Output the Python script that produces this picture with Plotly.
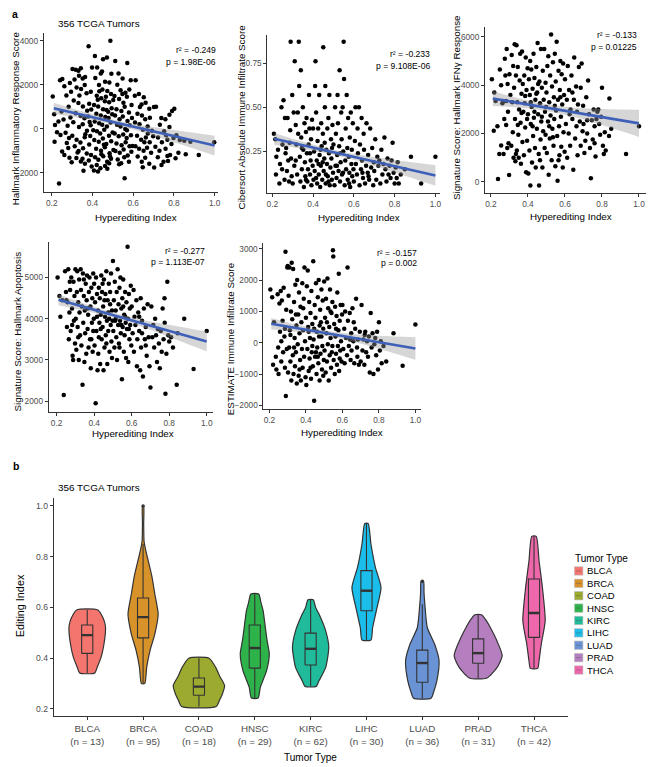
import plotly.graph_objects as go

W, H = 654, 767
OFF = 8            # the page body adds an 8px margin; the figure is shrunk to fit the window
FW, FH = W - OFF, H - OFF
FONT = "Liberation Sans, Arial, Helvetica, sans-serif"

# ---------------- DATA ----------------
# Panel a: (Hyperediting Index, score) pairs
inflammatory_pts = [
(0.205,1470),(0.212,660),(0.216,170),(0.214,-590),(0.236,-2490),(0.241,2210),(0.252,2270),(0.262,1940),(0.272,1520),(0.248,790),(0.258,420),(0.233,330),(0.268,-180),(0.281,-870),(0.251,-1030),(0.274,-640),(0.289,2080),(0.283,1010),(0.292,520),(0.287,-1310),(0.243,-280),(0.278,140),(0.262,-1190),(0.295,1690),(0.298,-1520),(0.226,-150),(0.285,-420),
(0.302,2720),(0.318,2690),(0.331,2640),(0.343,2760),(0.312,2240),(0.334,2410),(0.352,2290),(0.364,2360),(0.381,3760),(0.362,1990),(0.322,1880),(0.344,1810),(0.371,1620),(0.392,1690),(0.308,1290),(0.331,1180),(0.353,1020),(0.384,1140),(0.394,880),(0.318,710),(0.342,590),(0.361,480),(0.379,560),(0.306,300),(0.334,90),(0.352,210),(0.373,-90),(0.391,160),(0.301,-310),(0.322,-490),(0.341,-620),(0.362,-380),(0.384,-710),(0.313,-790),(0.332,-1010),(0.354,-880),(0.372,-1120),(0.393,-1190),(0.321,-1320),(0.343,-1480),(0.363,-1590),(0.382,-1440),(0.396,-1710),(0.351,-1360),(0.336,1520),(0.374,820),(0.365,-240),(0.386,310),(0.398,2790),(0.356,-1900),(0.327,-1080),(0.389,-320),
(0.412,3310),(0.423,2790),(0.441,2520),(0.452,3160),(0.471,3240),(0.488,4010),(0.493,2510),(0.462,2140),(0.483,2110),(0.414,2310),(0.432,1990),(0.449,1790),(0.473,1720),(0.491,1580),(0.421,1510),(0.443,1390),(0.461,1260),(0.482,1210),(0.502,1310),(0.408,1090),(0.428,1020),(0.452,890),(0.469,860),(0.494,940),(0.419,690),(0.441,610),(0.463,540),(0.479,490),(0.497,660),(0.411,340),(0.433,260),(0.448,190),(0.471,110),(0.489,290),(0.422,-110),(0.438,-210),(0.458,-40),(0.481,-310),(0.499,-160),(0.409,-510),(0.431,-590),(0.451,-440),(0.468,-690),(0.492,-560),(0.418,-910),(0.442,-990),(0.461,-840),(0.484,-1110),(0.503,-960),(0.413,-1290),(0.429,-1410),(0.453,-1240),(0.472,-1490),(0.491,-1360),(0.421,-1640),(0.439,-1790),(0.462,-1690),(0.482,-1560),(0.407,-1890),(0.427,-1940),(0.473,-1810),(0.447,2610),(0.434,1710),(0.466,1460),(0.444,-1160),(0.426,1320),(0.456,-720),(0.477,780),(0.404,-60),(0.486,-1240),
(0.512,3090),(0.528,2520),(0.548,2290),(0.571,2990),(0.588,2210),(0.522,2010),(0.538,1760),(0.562,1640),(0.581,1790),(0.508,1490),(0.531,1360),(0.552,1190),(0.569,1460),(0.592,1090),(0.518,890),(0.542,810),(0.558,1010),(0.579,740),(0.511,610),(0.533,440),(0.549,560),(0.572,360),(0.594,490),(0.521,190),(0.538,110),(0.561,-10),(0.583,160),(0.509,-210),(0.529,-340),(0.551,-260),(0.568,-410),(0.589,-290),(0.518,-660),(0.543,-740),(0.563,-610),(0.582,-790),(0.513,-1010),(0.534,-1090),(0.553,-940),(0.573,-1210),(0.591,-1040),(0.524,-1390),(0.541,-1560),(0.558,-2250),(0.531,-1610),(0.579,-1490),(0.547,1590),(0.569,-60),(0.597,-780),(0.556,-1290),
(0.612,2210),(0.628,1590),(0.652,1440),(0.608,1510),(0.641,1110),(0.661,1190),(0.679,910),(0.621,690),(0.643,610),(0.659,440),(0.682,510),(0.702,990),(0.609,290),(0.631,210),(0.648,-40),(0.671,110),(0.692,-90),(0.619,-310),(0.639,-490),(0.662,-390),(0.681,-610),(0.698,-340),(0.611,-790),(0.629,-910),(0.651,-990),(0.668,-860),(0.688,-1090),(0.622,-1260),(0.642,-1490),(0.659,-1310),(0.679,-1590),(0.703,-1760),(0.647,-1740),(0.633,990),(0.672,-210),(0.655,-610),
(0.712,1010),(0.738,490),(0.758,440),(0.731,190),(0.752,-110),(0.778,90),(0.722,-390),(0.741,-610),(0.768,-490),(0.788,-690),(0.709,-810),(0.729,-990),(0.759,-910),(0.781,-1190),(0.721,-1290),(0.749,-1490),(0.771,-1460),(0.739,-1640),(0.791,810),(0.778,640),(0.762,-290),(0.798,-420),
(0.802,910),(0.812,-290),(0.829,-510),(0.851,-540),(0.822,-1090),(0.858,-1160),(0.922,-1190),(0.998,-610),(0.808,-1340),(0.881,-590),(0.768,-1230),
]

cibersort_pts = [
(0.208,0.35),(0.215,0.32),(0.22,0.22),(0.218,0.12),(0.235,0.07),(0.238,0.18),(0.245,0.50),(0.255,0.54),(0.25,0.29),(0.26,0.09),(0.262,0.44),(0.268,0.27),(0.272,0.14),(0.275,0.44),(0.278,0.20),(0.282,0.08),(0.285,0.30),(0.29,0.87),(0.288,0.37),(0.292,0.21),(0.295,0.11),(0.298,0.57),(0.248,0.15),(0.265,0.24),(0.228,0.26),
(0.30,0.07),(0.305,0.47),(0.31,0.76),(0.308,0.17),(0.315,0.40),(0.318,0.29),(0.322,0.12),(0.325,0.47),(0.33,0.87),(0.332,0.62),(0.335,0.22),(0.338,0.08),(0.34,0.71),(0.342,0.33),(0.345,0.15),(0.35,0.50),(0.352,0.26),(0.355,0.05),(0.358,0.41),(0.36,0.19),(0.362,0.11),(0.365,0.36),(0.368,0.44),(0.37,0.24),(0.372,0.08),(0.375,0.15),(0.378,0.29),(0.38,0.57),(0.382,0.38),(0.385,0.12),(0.388,0.20),(0.39,0.32),(0.392,0.06),(0.395,0.43),(0.398,0.17),(0.315,0.20),(0.345,0.27),(0.365,0.09),(0.385,0.24),(0.327,0.35),
(0.40,0.38),(0.402,0.09),(0.405,0.25),(0.408,0.14),(0.41,0.62),(0.412,0.76),(0.415,0.47),(0.418,0.20),(0.42,0.07),(0.422,0.31),(0.425,0.38),(0.428,0.12),(0.43,0.57),(0.432,0.23),(0.435,0.05),(0.438,0.17),(0.44,0.41),(0.442,0.28),(0.445,0.09),(0.448,0.35),(0.45,0.84),(0.452,0.14),(0.455,0.21),(0.458,0.50),(0.46,0.62),(0.462,0.07),(0.465,0.26),(0.468,0.18),(0.47,0.38),(0.472,0.11),(0.475,0.44),(0.478,0.24),(0.48,0.57),(0.482,0.06),(0.485,0.16),(0.488,0.32),(0.49,0.21),(0.492,0.09),(0.495,0.40),(0.498,0.13),(0.415,0.10),(0.437,0.26),(0.457,0.30),(0.476,0.08),(0.493,0.27),(0.427,0.18),(0.463,0.12),(0.447,0.19),
(0.50,0.29),(0.505,0.06),(0.508,0.50),(0.51,0.17),(0.512,0.35),(0.515,0.10),(0.518,0.23),(0.52,0.57),(0.522,0.41),(0.525,0.14),(0.528,0.28),(0.53,0.71),(0.532,0.08),(0.535,0.19),(0.538,0.47),(0.54,0.32),(0.542,0.12),(0.545,0.50),(0.548,0.25),(0.55,0.87),(0.552,0.66),(0.555,0.06),(0.558,0.20),(0.56,0.38),(0.562,0.15),(0.565,0.57),(0.568,0.27),(0.57,0.09),(0.572,0.44),(0.575,0.22),(0.578,0.13),(0.58,0.33),(0.582,0.05),(0.585,0.47),(0.588,0.18),(0.59,0.26),(0.592,0.11),(0.595,0.41),(0.598,0.15),(0.517,0.17),(0.547,0.13),(0.577,0.07),(0.533,0.24),
(0.60,0.08),(0.605,0.31),(0.608,0.50),(0.61,0.18),(0.615,0.12),(0.618,0.38),(0.62,0.24),(0.625,0.50),(0.628,0.06),(0.63,0.29),(0.635,0.15),(0.638,0.44),(0.64,0.20),(0.645,0.10),(0.648,0.35),(0.65,0.26),(0.655,0.07),(0.66,0.17),(0.662,0.41),(0.668,0.13),(0.67,0.23),(0.675,0.09),(0.68,0.38),(0.685,0.16),(0.69,0.27),(0.695,0.06),(0.698,0.19),(0.642,0.13),(0.672,0.11),
(0.70,0.14),(0.705,0.32),(0.71,0.09),(0.715,0.22),(0.72,0.17),(0.73,0.07),(0.735,0.26),(0.74,0.12),(0.745,0.18),(0.75,0.33),(0.755,0.15),(0.76,0.08),(0.765,0.21),(0.77,0.12),(0.775,0.17),(0.78,0.10),(0.785,0.20),(0.79,0.30),(0.795,0.13),(0.725,0.20),
(0.80,0.07),(0.805,0.16),(0.815,0.19),(0.82,0.07),(0.83,0.12),(0.85,0.15),(0.88,0.22),(0.93,0.07),(1.0,0.22),(0.81,0.10),
]

ifng_pts = [
(0.205,4250),(0.218,3700),(0.215,2120),(0.235,2300),(0.238,120),(0.248,4650),(0.255,1510),(0.262,3250),(0.268,1150),(0.272,2600),(0.275,5100),(0.278,4400),(0.282,3350),(0.285,5500),(0.288,1400),(0.29,4050),(0.292,2900),(0.295,1600),(0.298,280),(0.255,4000),(0.265,3350),(0.282,2350),(0.245,1150),(0.225,3350),
(0.30,4450),(0.305,3600),(0.31,1500),(0.312,5250),(0.318,2050),(0.32,4800),(0.322,1000),(0.325,3900),(0.328,5700),(0.33,2600),(0.332,850),(0.335,4400),(0.338,5650),(0.34,1300),(0.342,3300),(0.345,4750),(0.348,1950),(0.35,1000),(0.352,3000),(0.355,4200),(0.358,5300),(0.36,2450),(0.362,750),(0.365,3650),(0.368,5400),(0.37,1650),(0.372,4050),(0.375,2900),(0.378,1100),(0.38,4400),(0.382,3250),(0.385,2250),(0.388,5150),(0.39,400),(0.392,3800),(0.395,1700),(0.398,4700),(0.315,3300),(0.345,2350),(0.365,2850),(0.385,3550),(0.335,1150),(0.395,2600),
(0.40,2800),(0.402,350),(0.405,4250),(0.408,1300),(0.41,3600),(0.412,5000),(0.413,-150),(0.415,2400),(0.418,4650),(0.42,3100),(0.422,800),(0.425,3850),(0.428,1900),(0.43,5300),(0.432,2650),(0.435,4300),(0.438,1400),(0.44,3400),(0.442,600),(0.445,4750),(0.448,2200),(0.45,3700),(0.452,5750),(0.455,2800),(0.458,1150),(0.46,-150),(0.462,4150),(0.465,3250),(0.468,1750),(0.47,5500),(0.472,2500),(0.475,3900),(0.478,600),(0.48,4600),(0.482,2100),(0.485,3400),(0.488,5500),(0.49,1400),(0.492,2900),(0.495,4100),(0.498,3100),(0.415,3300),(0.435,2900),(0.455,4050),(0.475,2700),(0.495,1950),(0.425,2300),(0.445,3650),(0.465,900),
(0.50,3700),(0.502,1200),(0.505,4800),(0.508,2500),(0.51,5200),(0.512,300),(0.515,3300),(0.518,1800),(0.52,4400),(0.522,2750),(0.525,6100),(0.528,900),(0.53,3950),(0.532,2200),(0.535,4950),(0.538,1500),(0.54,3500),(0.542,2600),(0.545,5300),(0.548,650),(0.55,4150),(0.552,2950),(0.555,5800),(0.558,1900),(0.56,50),(0.562,3400),(0.565,4600),(0.568,2300),(0.57,1100),(0.572,3800),(0.575,5000),(0.578,2700),(0.58,1450),(0.582,4450),(0.585,3200),(0.588,600),(0.59,4900),(0.592,2050),(0.595,3600),(0.598,1250),(0.515,2300),(0.545,3150),(0.575,3500),(0.535,1850),(0.565,900),
(0.60,4250),(0.605,2400),(0.61,3400),(0.612,1000),(0.615,4800),(0.62,2000),(0.622,3800),(0.628,1500),(0.63,3000),(0.635,4400),(0.64,2600),(0.645,500),(0.648,3400),(0.65,5150),(0.655,1800),(0.66,3950),(0.662,2300),(0.668,1100),(0.67,3200),(0.675,4750),(0.68,2500),(0.685,1500),(0.69,4900),(0.695,2100),(0.698,3150),(0.64,3700),(0.665,2900),(0.685,3900),(0.625,2800),
(0.70,2400),(0.705,1200),(0.71,1700),(0.715,3500),(0.72,2000),(0.725,4200),(0.73,2800),(0.735,1400),(0.74,150),(0.745,2550),(0.75,1750),(0.755,3000),(0.76,2300),(0.765,1050),(0.77,2600),(0.775,2900),(0.78,3000),(0.785,2400),(0.79,1950),(0.795,2700),(0.72,2550),(0.76,1600),
(0.80,3900),(0.805,1500),(0.81,1150),(0.815,2050),(0.82,1300),(0.84,3450),(0.85,2200),(0.838,1900),(0.93,1150),(1.0,2300),
]

apoptosis_pts = [
(0.205,5000),(0.215,4550),(0.22,4050),(0.238,2150),(0.245,5150),(0.25,4650),(0.255,3800),(0.258,4400),(0.262,5200),(0.265,3500),(0.268,4150),(0.272,4700),(0.275,3700),(0.278,5000),(0.282,4250),(0.285,3100),(0.288,3000),(0.29,4900),(0.292,3950),(0.295,4550),(0.298,3400),(0.252,4450),(0.27,4900),(0.283,3850),(0.23,4450),
(0.30,5200),(0.302,4000),(0.305,3250),(0.308,4650),(0.31,5150),(0.312,3800),(0.315,4400),(0.318,3000),(0.32,4950),(0.322,4150),(0.325,3600),(0.328,5200),(0.33,4700),(0.332,3350),(0.335,4300),(0.338,2400),(0.34,5100),(0.342,3900),(0.345,4550),(0.348,2950),(0.35,4200),(0.352,3650),(0.355,4850),(0.358,3150),(0.36,4450),(0.362,5050),(0.365,3750),(0.368,4100),(0.37,3300),(0.372,4650),(0.375,5000),(0.378,3500),(0.38,4300),(0.382,2800),(0.385,4750),(0.388,3900),(0.39,4500),(0.392,3200),(0.395,5100),(0.398,4000),(0.315,3550),(0.345,4950),(0.365,4250),(0.385,3500),(0.395,3700),
(0.40,4850),(0.402,3350),(0.405,4400),(0.408,1950),(0.41,5000),(0.412,3700),(0.415,4600),(0.418,2750),(0.42,4200),(0.422,3150),(0.425,4750),(0.428,3900),(0.43,4500),(0.432,2900),(0.435,4100),(0.438,5050),(0.44,3500),(0.442,4650),(0.445,3800),(0.448,4300),(0.45,2750),(0.452,4950),(0.455,3300),(0.458,4050),(0.46,4600),(0.462,3600),(0.465,5150),(0.468,3950),(0.47,2900),(0.472,4450),(0.475,3700),(0.478,4850),(0.48,4000),(0.482,3200),(0.485,4350),(0.488,3850),(0.49,5100),(0.492,3450),(0.495,4200),(0.498,3950),(0.415,4050),(0.435,3750),(0.455,4450),(0.475,4150),(0.495,3050),(0.425,3550),(0.445,4850),(0.465,3400),(0.485,4650),
(0.50,5400),(0.502,3700),(0.505,4450),(0.508,3300),(0.51,4900),(0.512,3950),(0.515,4200),(0.518,3550),(0.52,4650),(0.522,3000),(0.525,5200),(0.528,3850),(0.53,4350),(0.532,3400),(0.535,4750),(0.538,3950),(0.54,5000),(0.542,3650),(0.545,4250),(0.548,2530),(0.55,4500),(0.552,3800),(0.555,4950),(0.558,3200),(0.56,4100),(0.562,3600),(0.565,4650),(0.568,3900),(0.57,3050),(0.572,4400),(0.575,3750),(0.578,5750),(0.58,4000),(0.582,2950),(0.585,4600),(0.588,3500),(0.59,4250),(0.592,3850),(0.595,4800),(0.598,3350),(0.515,4000),(0.545,3850),(0.565,4050),(0.585,3750),(0.535,3300),(0.555,4300),
(0.60,4300),(0.605,3650),(0.61,4700),(0.612,3200),(0.615,4050),(0.62,3850),(0.625,4450),(0.628,2850),(0.63,3500),(0.635,4150),(0.64,3700),(0.645,2750),(0.648,4500),(0.65,3300),(0.655,3950),(0.66,2600),(0.665,4250),(0.67,3500),(0.675,3800),(0.68,3100),(0.685,4350),(0.69,3550),(0.695,2850),(0.70,2330),(0.64,4050),(0.675,3350),(0.655,3650),
(0.705,4300),(0.71,3550),(0.715,3850),(0.72,3300),(0.725,4000),(0.73,3600),(0.735,2950),(0.74,3750),(0.745,3400),(0.75,2800),(0.755,3700),(0.76,3200),(0.765,4250),(0.77,3500),(0.775,4500),(0.78,2180),(0.785,3150),(0.79,4900),(0.795,3600),(0.776,3900),
(0.80,3450),(0.81,3550),(0.84,2400),(0.845,3650),(0.88,4000),(0.93,2780),(1.0,3700),(0.82,3300),
]

estimate_pts = [
(0.205,1700),(0.215,1450),(0.22,-700),(0.225,650),(0.235,-450),(0.238,-850),(0.245,1550),(0.25,-1000),(0.255,1250),(0.258,350),(0.262,1650),(0.265,-600),(0.268,1350),(0.272,700),(0.275,-300),(0.278,1750),(0.282,200),(0.285,-800),(0.288,2900),(0.29,-1700),(0.292,1050),(0.295,-200),(0.298,2400),(0.248,-150),(0.265,50),(0.285,450),
(0.30,2450),(0.302,-950),(0.305,1500),(0.308,-150),(0.31,2400),(0.312,400),(0.315,-600),(0.318,1000),(0.32,-1200),(0.322,2550),(0.325,750),(0.328,-400),(0.33,2350),(0.332,-1000),(0.335,1300),(0.338,150),(0.34,-750),(0.342,1850),(0.345,-300),(0.348,550),(0.35,-1300),(0.352,2000),(0.355,-50),(0.358,900),(0.36,-1050),(0.362,1600),(0.365,300),(0.368,-550),(0.37,1150),(0.372,-1200),(0.375,650),(0.378,-200),(0.38,1900),(0.382,-800),(0.385,400),(0.388,1400),(0.39,-450),(0.392,2400),(0.395,50),(0.398,-1100),(0.315,250),(0.345,900),(0.365,-850),(0.385,1100),(0.335,-150),
(0.40,800),(0.402,-1350),(0.405,1800),(0.408,-200),(0.41,2300),(0.412,500),(0.415,-900),(0.418,1300),(0.42,-500),(0.422,150),(0.425,950),(0.428,-1150),(0.43,1650),(0.432,-300),(0.435,600),(0.438,-750),(0.44,2600),(0.442,100),(0.445,-1850),(0.448,1200),(0.45,-450),(0.452,800),(0.455,1900),(0.458,-1000),(0.46,350),(0.462,-150),(0.465,1450),(0.468,-650),(0.47,2000),(0.472,200),(0.475,-1200),(0.478,1050),(0.48,-350),(0.482,650),(0.485,1700),(0.488,-850),(0.49,-100),(0.492,1350),(0.495,450),(0.498,-550),(0.415,350),(0.435,-100),(0.455,-300),(0.475,550),(0.495,-1050),(0.425,-800),(0.445,450),(0.465,-450),(0.485,200),
(0.50,1950),(0.502,-250),(0.505,800),(0.508,-950),(0.51,1400),(0.512,300),(0.515,-600),(0.518,2050),(0.52,-50),(0.522,1100),(0.525,-1200),(0.528,500),(0.53,-400),(0.532,1700),(0.535,150),(0.538,-800),(0.54,950),(0.542,-300),(0.545,1300),(0.548,2950),(0.55,2750),(0.552,-550),(0.555,600),(0.558,-1000),(0.56,1150),(0.562,200),(0.565,-350),(0.568,850),(0.57,-700),(0.572,1600),(0.575,-100),(0.578,400),(0.58,2200),(0.582,-900),(0.585,700),(0.588,-250),(0.59,1200),(0.592,50),(0.595,-600),(0.598,900),(0.515,650),(0.545,-100),(0.565,450),(0.585,-500),(0.535,1000),
(0.60,1200),(0.605,-200),(0.61,450),(0.612,-650),(0.615,1000),(0.62,150),(0.625,-400),(0.628,2400),(0.63,700),(0.635,-100),(0.64,950),(0.645,-550),(0.648,300),(0.65,-250),(0.655,1100),(0.66,50),(0.665,-650),(0.67,450),(0.675,1400),(0.68,-150),(0.685,100),(0.69,-700),(0.695,350),(0.70,-600),(0.642,100),(0.662,650),(0.682,-450),
(0.705,1200),(0.71,-250),(0.715,100),(0.72,-700),(0.725,350),(0.73,-300),(0.735,50),(0.74,-450),(0.745,200),(0.75,-950),(0.755,950),(0.76,-150),(0.765,300),(0.77,-1000),(0.775,-50),(0.78,150),(0.785,-400),(0.79,350),(0.795,-850),(0.722,250),
(0.80,650),(0.805,-250),(0.815,-650),(0.825,-100),(0.84,-600),(0.88,300),(0.93,-730),(1.0,580),(0.81,50),
]

# Regression fits (x positions, fitted value, 95% CI half-width)
fit_x = [0.21, 0.35, 0.5, 0.65, 0.8, 1.0]
inflammatory_fit = [940, 639, 316, -7, -330, -760]
inflammatory_ci = [250, 160, 115, 160, 280, 450]
cibersort_fit = [0.322, 0.285, 0.246, 0.207, 0.167, 0.115]
cibersort_ci = [0.033, 0.02, 0.014, 0.02, 0.035, 0.058]
ifng_fit = [3450, 3267, 3072, 2876, 2681, 2420]
ifng_ci = [310, 190, 140, 190, 330, 560]
apoptosis_fit = [4460, 4281, 4089, 3898, 3706, 3450]
apoptosis_ci = [130, 85, 60, 85, 150, 240]
estimate_fit = [605, 465, 315, 165, 15, -185]
estimate_ci = [185, 115, 85, 115, 210, 360]

r2_text = ["-0.249", "-0.233", "-0.133", "-0.277", "-0.157"]
p_text = ["1.98E-06", "9.108E-06", "0.01225", "1.113E-07", "0.002"]
y_titles = ["Hallmark Inflammatory Response Score",
            "Cibersort Absolute Immune Infiltrate Score",
            "Signature Score: Hallmark IFN\u03b3 Response",
            "Signature Score: Hallmark Apoptosis",
            "ESTIMATE Immune Infiltrate Score"]

# Panel b
tumor_types = ["BLCA", "BRCA", "COAD", "HNSC", "KIRC", "LIHC", "LUAD", "PRAD", "THCA"]
tumor_n = [13, 95, 18, 29, 62, 30, 36, 31, 42]
tumor_colors = ["#F4756E", "#D8922A", "#9CAB2F", "#2DB34A", "#20BB9B",
                "#1BBDEA", "#6A93D6", "#B57EBF", "#EF67AB"]
# violin outlines: (editing index, half-width in category units), bottom to top
violin_outline = {
    "BLCA": [(0.342,0.136),(0.365,0.18),(0.405,0.25),(0.456,0.30),(0.50,0.325),(0.528,0.325),(0.56,0.28),(0.59,0.19)],
    "BRCA": [(0.30,0.03),(0.365,0.065),(0.43,0.124),(0.495,0.21),(0.574,0.27),(0.653,0.21),(0.72,0.16),(0.823,0.05),(0.86,0.018),(0.93,0.011),(1.0,0.01)],
    "COAD": [(0.21,0.31),(0.235,0.37),(0.259,0.42),(0.292,0.46),(0.33,0.37),(0.364,0.30),(0.40,0.18)],
    "HNSC": [(0.243,0.06),(0.286,0.10),(0.35,0.21),(0.417,0.26),(0.47,0.22),(0.52,0.19),(0.587,0.15),(0.62,0.11),(0.653,0.07)],
    "KIRC": [(0.289,0.10),(0.311,0.15),(0.364,0.27),(0.443,0.325),(0.508,0.27),(0.574,0.15),(0.60,0.09),(0.63,0.047)],
    "LIHC": [(0.472,0.08),(0.52,0.11),(0.60,0.19),(0.679,0.26),(0.758,0.16),(0.85,0.08),(0.931,0.03)],
    "LUAD": [(0.242,0.157),(0.265,0.20),(0.311,0.26),(0.39,0.30),(0.456,0.22),(0.52,0.09),(0.613,0.045),(0.66,0.03),(0.703,0.022)],
    "PRAD": [(0.322,0.157),(0.364,0.34),(0.41,0.43),(0.469,0.335),(0.52,0.22),(0.55,0.14),(0.571,0.06)],
    "THCA": [(0.36,0.065),(0.39,0.09),(0.456,0.13),(0.548,0.20),(0.679,0.15),(0.784,0.09),(0.88,0.04)],
}
box_lower = [0.342, 0.30, 0.21, 0.243, 0.289, 0.472, 0.242, 0.322, 0.36]
box_q1 = [0.419, 0.48, 0.254, 0.361, 0.373, 0.587, 0.305, 0.38, 0.482]
box_median = [0.491, 0.562, 0.288, 0.44, 0.437, 0.666, 0.381, 0.42, 0.578]
box_q3 = [0.531, 0.637, 0.322, 0.531, 0.499, 0.745, 0.432, 0.476, 0.712]
box_upper = [0.59, 0.85, 0.40, 0.653, 0.63, 0.931, 0.613, 0.571, 0.88]
outlier_type = ["BRCA", "LUAD"]
outlier_value = [1.0, 0.703]
BOX_HALF = 0.1

# ---------------- LAYOUT HELPERS ----------------
def fx(p):
    return (p - OFF) / FW

def fy(p):
    return 1 - (p - OFF) / FH

fig = go.Figure()
annotations = []
shapes = []

def ann(text, x, y, size, xanchor="center", yanchor="middle", angle=0,
        color="black", bold=False):
    if bold:
        text = "<b>" + text + "</b>"
    annotations.append(dict(text=text, x=fx(x), y=fy(y), xref="paper", yref="paper",
                            xanchor=xanchor, yanchor=yanchor, textangle=angle,
                            showarrow=False, font=dict(family=FONT, size=size, color=color)))

AXC = "#333333"
TICKF = dict(family=FONT, size=8.3, color="#4d4d4d")

def axis_style(**kw):
    d = dict(showline=True, linecolor=AXC, linewidth=1, ticks="outside", ticklen=3,
             tickcolor=AXC, tickwidth=1, showgrid=False, zeroline=False,
             tickfont=TICKF, fixedrange=True)
    d.update(kw)
    return d

# scatter panels: pixel boxes (left, right, top, bottom), ranges
panel_specs = [
    dict(pts=inflammatory_pts, fit=inflammatory_fit, ci=inflammatory_ci,
         box=(43, 218, 33, 192), xr=[0.161, 1.015], yr=[-2860, 4360],
         yt=[-2000, 0, 2000, 4000], ytt=None,
         ytitle=(14.5, 118), xtitle=(136, 218), stat=(218, 50, 62)),
    dict(pts=cibersort_pts, fit=cibersort_fit, ci=cibersort_ci,
         box=(268, 442, 35, 193), xr=[0.176, 1.024], yr=[0.017, 0.909],
         yt=[0.25, 0.5, 0.75], ytt=["0.25", "0.50", "0.75"],
         ytitle=(242, 117), xtitle=(360, 218), stat=(434, 54, 66)),
    dict(pts=ifng_pts, fit=ifng_fit, ci=ifng_ci,
         box=(487, 649, 27, 193), xr=[0.168, 1.038], yr=[-450, 6410],
         yt=[0, 2000, 4000, 6000], ytt=None,
         ytitle=(459, 108), xtitle=(573, 217), stat=(642, 35, 47)),
    dict(pts=apoptosis_pts, fit=apoptosis_fit, ci=apoptosis_ci,
         box=(48, 213, 242, 413), xr=[0.158, 1.032], yr=[1726, 5870],
         yt=[2000, 3000, 4000, 5000], ytt=None,
         ytitle=(17, 332), xtitle=(133, 434), stat=(207, 251, 262)),
    dict(pts=estimate_pts, fit=estimate_fit, ci=estimate_ci,
         box=(264, 423, 243, 410), xr=[0.167, 1.033], yr=[-2127, 3190],
         yt=[-2000, -1000, 0, 1000, 2000, 3000], ytt=None,
         ytitle=(231, 339), xtitle=(343, 433), stat=(421, 253, 263)),
]

layout_axes = {}
for k, s in enumerate(panel_specs):
    n = "" if k == 0 else str(k + 1)
    xa, ya = "x" + n, "y" + n
    l, r, t, b = s["box"]
    xs = [p[0] for p in s["pts"]]
    ys = [p[1] for p in s["pts"]]
    fig.add_trace(go.Scatter(x=xs, y=ys, mode="markers",
                             marker=dict(size=4.5, color="black", line=dict(width=0)),
                             xaxis=xa, yaxis=ya, showlegend=False, hoverinfo="skip"))
    lo = [a - c for a, c in zip(s["fit"], s["ci"])]
    hi = [a + c for a, c in zip(s["fit"], s["ci"])]
    fig.add_trace(go.Scatter(x=fit_x, y=lo, mode="lines", line=dict(width=0, shape="spline"),
                             xaxis=xa, yaxis=ya, showlegend=False, hoverinfo="skip"))
    fig.add_trace(go.Scatter(x=fit_x, y=hi, mode="lines", line=dict(width=0, shape="spline"),
                             fill="tonexty", fillcolor="rgba(153,153,153,0.4)",
                             xaxis=xa, yaxis=ya, showlegend=False, hoverinfo="skip"))
    fig.add_trace(go.Scatter(x=fit_x, y=s["fit"], mode="lines",
                             line=dict(color="#3F60B8", width=2.6),
                             xaxis=xa, yaxis=ya, showlegend=False, hoverinfo="skip"))
    layout_axes["xaxis" + n] = axis_style(domain=[fx(l), fx(r)], range=s["xr"], anchor=ya,
                                          tickvals=[0.2, 0.4, 0.6, 0.8, 1.0],
                                          ticktext=["0.2", "0.4", "0.6", "0.8", "1.0"])
    yk = dict(domain=[fy(b), fy(t)], range=s["yr"], anchor=xa, tickvals=s["yt"])
    if s["ytt"]:
        yk["ticktext"] = s["ytt"]
    layout_axes["yaxis" + n] = axis_style(**yk)
    ann(y_titles[k], s["ytitle"][0], s["ytitle"][1], 9.8, angle=-90)
    ann("Hyperediting Index", s["xtitle"][0], s["xtitle"][1], 9.8)
    ann("r\u00b2 = " + r2_text[k], s["stat"][0], s["stat"][1], 8.6, xanchor="right")
    ann("p = " + p_text[k], s["stat"][0], s["stat"][2], 8.6, xanchor="right")

ann("a", 9, 14, 10.5, xanchor="left", bold=True)
ann("356 TCGA Tumors", 55, 24, 9.9, xanchor="left")

# ---------------- PANEL b: violins with boxes ----------------
for i, t in enumerate(tumor_types):
    outline = violin_outline[t]
    vx = [i + hw for (_, hw) in outline] + [i - hw for (_, hw) in reversed(outline)]
    vy = [y for (y, _) in outline] + [y for (y, _) in reversed(outline)]
    vx.append(vx[0])
    vy.append(vy[0])
    fig.add_trace(go.Scatter(x=vx, y=vy, mode="lines", fill="toself",
                             fillcolor=tumor_colors[i],
                             line=dict(color="#333333", width=1.2, shape="spline", smoothing=0.6),
                             xaxis="x6", yaxis="y6", showlegend=False, hoverinfo="skip"))
    # whiskers
    fig.add_trace(go.Scatter(x=[i, i, None, i, i],
                             y=[box_lower[i], box_q1[i], None, box_q3[i], box_upper[i]],
                             mode="lines", line=dict(color="#333333", width=1.1),
                             xaxis="x6", yaxis="y6", showlegend=False, hoverinfo="skip"))
    # box
    fig.add_trace(go.Scatter(x=[i - BOX_HALF, i + BOX_HALF, i + BOX_HALF, i - BOX_HALF, i - BOX_HALF],
                             y=[box_q1[i], box_q1[i], box_q3[i], box_q3[i], box_q1[i]],
                             mode="lines", line=dict(color="#333333", width=1.1),
                             xaxis="x6", yaxis="y6", showlegend=False, hoverinfo="skip"))
    # median
    fig.add_trace(go.Scatter(x=[i - BOX_HALF, i + BOX_HALF], y=[box_median[i], box_median[i]],
                             mode="lines", line=dict(color="#333333", width=2.4),
                             xaxis="x6", yaxis="y6", showlegend=False, hoverinfo="skip"))

fig.add_trace(go.Scatter(x=[tumor_types.index(t) for t in outlier_type], y=outlier_value,
                         mode="markers", marker=dict(size=3.5, color="#333333"),
                         xaxis="x6", yaxis="y6", showlegend=False, hoverinfo="skip"))

layout_axes["xaxis6"] = axis_style(domain=[fx(53), fx(570)], range=[-0.6, 8.6], anchor="y6",
                                   tickvals=list(range(len(tumor_types))),
                                   ticktext=[f"{t}<br>(n = {n})" for t, n in zip(tumor_types, tumor_n)],
                                   tickfont=dict(family=FONT, size=9.8, color="#4d4d4d"))
layout_axes["yaxis6"] = axis_style(domain=[fy(717), fy(499)], range=[0.172, 1.03], anchor="x6",
                                   tickvals=[0.2, 0.4, 0.6, 0.8, 1.0],
                                   ticktext=["0.2", "0.4", "0.6", "0.8", "1.0"],
                                   tickfont=dict(family=FONT, size=8.6, color="#4d4d4d"))

ann("b", 10, 467, 10.5, xanchor="left", bold=True)
ann("356 TCGA Tumors", 55, 488, 9.9, xanchor="left")
ann("Editing Index", 19, 606, 10.8, angle=-90)
ann("Tumor Type", 311, 758, 10)

# legend (drawn by hand)
ann("Tumor Type", 576, 559, 10, xanchor="left")
for i, t in enumerate(tumor_types):
    yc = 571.7 + i * 12.4
    shapes.append(dict(type="rect", xref="paper", yref="paper",
                       x0=fx(577), x1=fx(585.5), y0=fy(yc + 4.2), y1=fy(yc - 4.2),
                       fillcolor=tumor_colors[i], line=dict(color="#bbbbbb", width=0.6)))
    shapes.append(dict(type="line", xref="paper", yref="paper",
                       x0=fx(578.5), x1=fx(584), y0=fy(yc), y1=fy(yc),
                       line=dict(color="rgba(80,80,80,0.5)", width=0.8)))
    ann(t, 587.5, yc, 9.6, xanchor="left")

fig.update_layout(width=FW, height=FH, margin=dict(l=0, r=0, t=0, b=0),
                  paper_bgcolor="white", plot_bgcolor="white",
                  font=dict(family=FONT), annotations=annotations, shapes=shapes,
                  **layout_axes)

fig.write_html("out.html")
